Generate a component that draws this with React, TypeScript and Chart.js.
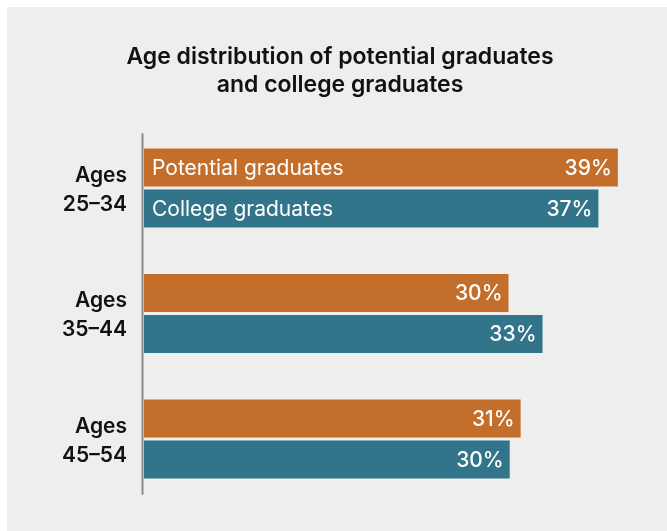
import React, { useEffect, useRef } from "react";
import { Chart, registerables } from "chart.js";

Chart.register(...registerables);

const titleLines = ["Age distribution of potential graduates", "and college graduates"];
const categories = [["Ages", "25–34"], ["Ages", "35–44"], ["Ages", "45–54"]];
const seriesNames = ["Potential graduates", "College graduates"];
const potentialValues = [39, 30, 31];
const collegeValues = [37.4, 32.8, 30.1];
const seriesColors = ["#c46e2b", "#32748a"];

const FONT = "Inter, Lato, sans-serif";

const axisLine = {
  id: "axisLine",
  afterDatasetsDraw(chart: any) {
    const { ctx, chartArea } = chart;
    ctx.save();
    ctx.strokeStyle = "#8a8a8a";
    ctx.lineWidth = 2;
    ctx.beginPath();
    ctx.moveTo(chartArea.left - 1.5, chartArea.top + 8);
    ctx.lineTo(chartArea.left - 1.5, chartArea.bottom - 7);
    ctx.stroke();
    ctx.restore();
  },
};

const barLabels = {
  id: "barLabels",
  afterDatasetsDraw(chart: any) {
    const ctx = chart.ctx;
    chart.data.datasets.forEach((ds: any, di: number) => {
      const meta = chart.getDatasetMeta(di);
      meta.data.forEach((bar: any, i: number) => {
        const v = ds.data[i] as number;
        ctx.save();
        ctx.fillStyle = "#ffffff";
        ctx.textBaseline = "middle";
        ctx.textAlign = "right";
        ctx.font = `500 21px ${FONT}`;
        ctx.fillText(`${Math.round(v)}%`, bar.x - 6, bar.y + 1);
        if (i === 0) {
          ctx.textAlign = "left";
          ctx.font = `21px ${FONT}`;
          ctx.fillText(ds.label, bar.base + 8, bar.y + 1);
        }
        ctx.restore();
      });
    });
  },
};

export default function App() {
  const ref = useRef<HTMLCanvasElement | null>(null);

  useEffect(() => {
    if (!ref.current) return;
    const chart = new Chart(ref.current, {
      type: "bar",
      data: {
        labels: categories,
        datasets: [
          {
            label: seriesNames[0],
            data: potentialValues,
            backgroundColor: seriesColors[0],
            categoryPercentage: 0.6534,
            barPercentage: 0.927,
          },
          {
            label: seriesNames[1],
            data: collegeValues,
            backgroundColor: seriesColors[1],
            categoryPercentage: 0.6534,
            barPercentage: 0.927,
          },
        ],
      },
      options: {
        indexAxis: "y",
        responsive: true,
        maintainAspectRatio: false,
        animation: false,
        layout: { padding: { left: 50, right: 37, top: 0, bottom: 29.25 } },
        scales: {
          x: { display: false, min: 0, max: 40 },
          y: {
            grid: { display: false, drawTicks: false },
            border: { display: false },
            ticks: {
              color: "#111111",
              padding: 17,
              labelOffset: 2,
              font: { family: FONT, size: 21, weight: "600", lineHeight: "29px" },
            },
            afterFit(scale: any) {
              scale.width = 94;
              scale.paddingTop = 0;
              scale.paddingBottom = 0;
            },
          },
        },
        plugins: {
          legend: { display: false },
          tooltip: { enabled: false },
          title: {
            display: true,
            text: titleLines,
            color: "#111111",
            font: { family: FONT, size: 23, weight: "600", lineHeight: "28px" },
            padding: { top: 43, bottom: 26.25 },
          },
        },
      },
      plugins: [axisLine, barLabels],
    });
    return () => chart.destroy();
  }, []);

  return (
    <div style={{ position: "fixed", left: 0, top: 0, width: 667, height: 531, background: "#ffffff" }}>
      <div style={{ position: "absolute", left: 7, top: 7, right: 0, bottom: 0, background: "#eeeeee" }} />
      <div style={{ position: "absolute", left: 0, top: 0, width: 667, height: 531 }}>
        <canvas ref={ref} />
      </div>
    </div>
  );
}
